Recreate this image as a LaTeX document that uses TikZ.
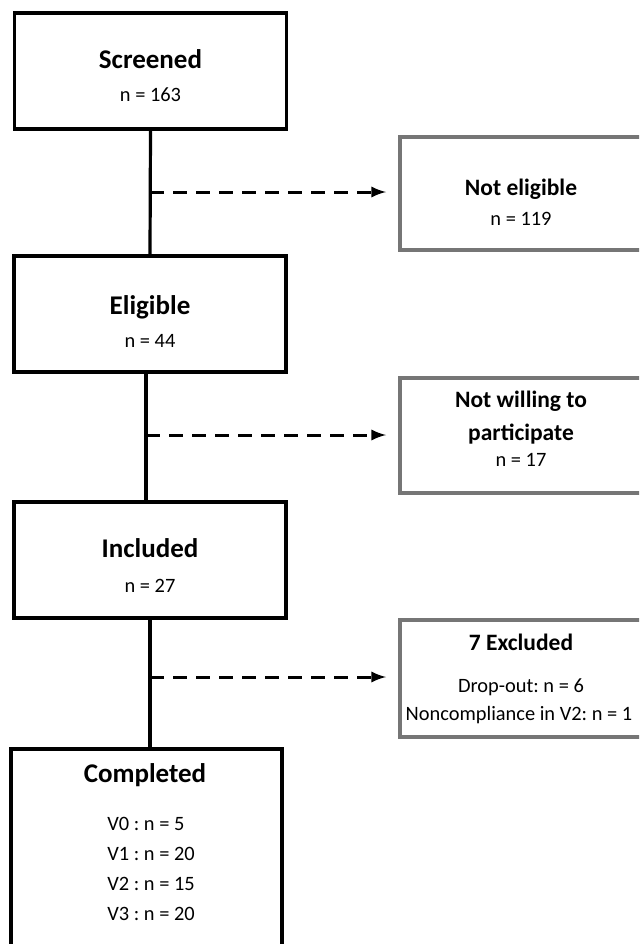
\documentclass[tikz,border=0pt]{standalone}
\usepackage{fontspec}
\setmainfont{Carlito}
\frenchspacing

\definecolor{excludegray}{RGB}{118,118,118}

\begin{document}
\begin{tikzpicture}[x=0.5pt,y=-0.5pt,line join=miter,
        stagebox/.style={draw=black,line width=1.6pt,inner sep=0pt,
            minimum width=136pt,minimum height=58pt},
        exclbox/.style={draw=excludegray,line width=2pt,inner sep=0pt,
            minimum width=122pt},
        stagetitle/.style={anchor=base,inner sep=0pt,
            font=\bfseries\fontsize{13.5}{16}\selectfont},
        excltitle/.style={anchor=base,inner sep=0pt,
            font=\bfseries\fontsize{11.75}{14}\selectfont},
        counttext/.style={anchor=base,inner sep=0pt,
            font=\fontsize{10.2}{12}\selectfont},
        flowline/.style={line width=1.6pt},
        exclarrow/.style={line width=1.5pt,dash pattern=on 7pt off 4.5pt,
            -latex,shorten >=6pt}]
        \useasboundingbox (0,0) rectangle (639,944);
        \clip (0,0) rectangle (639,944);

        % Etapas principales
        \node[stagebox] (screened) at (150.5,71) {};
        \node[stagetitle] (screenedtitle) at (150.5,68.5) {Screened};
        \node[counttext] (screenedcount) at (150.5,101.5) {n = 163};

        \node[stagebox] (eligible) at (150,314) {};
        \node[stagetitle] (eligibletitle) at (150,314) {Eligible};
        \node[counttext] (eligiblecount) at (150,347) {n = 44};

        \node[stagebox] (included) at (150,560) {};
        \node[stagetitle] (includedtitle) at (150,557) {Included};
        \node[counttext] (includedcount) at (150,592) {n = 27};

        \node[stagebox,minimum width=135.5pt,minimum height=105.5pt]
            (completed) at (146.5,854.5) {};
        \node[stagetitle] (completedtitle) at (145,782) {Completed};
        \node[counttext,anchor=base west] (visitzero) at (107,830) {V0 : n = 5};
        \node[counttext,anchor=base west] (visitone) at (107,860) {V1 : n = 20};
        \node[counttext,anchor=base west] (visittwo) at (107,890) {V2 : n = 15};
        \node[counttext,anchor=base west] (visitthree) at (107,920) {V3 : n = 20};

        % Cajas de exclusion
        \node[exclbox,minimum height=56.5pt] (noteligible) at (522,193.5) {};
        \node[excltitle] (noteligibletitle) at (521,195) {Not eligible};
        \node[counttext] (noteligiblecount) at (521,225) {n = 119};

        \node[exclbox,minimum height=57.5pt] (notwilling) at (522,435.5) {};
        \node[excltitle] (notwillingtitle) at (521,407) {Not willing to};
        \node[excltitle] (notwillingtitletwo) at (521,440) {participate};
        \node[counttext] (notwillingcount) at (521,466) {n = 17};

        \node[exclbox,minimum height=58.5pt] (excluded) at (522,678.5) {};
        \node[excltitle] (excludedtitle) at (521,650) {7 Excluded};
        \node[counttext] (dropout) at (521,692.5) {Drop-out: n = 6};
        \node[counttext] (noncompliance) at (519,720) {Noncompliance in V2: n = 1};

        % Flujo vertical
        \draw[flowline] (screened.south) -- (eligible.north);
        \draw[flowline] ([xshift=-2pt]eligible.south) -- ([xshift=-2pt]included.north);
        \draw[flowline] (included.south) -- (included.south |- completed.north);

        % Flechas de exclusion
        \coordinate (branchone) at (150,192);
        \coordinate (branchtwo) at (146,435);
        \coordinate (branchthree) at (150,677);
        \draw[exclarrow] (branchone) -- (branchone -| noteligible.west);
        \draw[exclarrow] (branchtwo) -- (branchtwo -| notwilling.west);
        \draw[exclarrow] (branchthree) -- (branchthree -| excluded.west);
    \end{tikzpicture}
\end{document}
